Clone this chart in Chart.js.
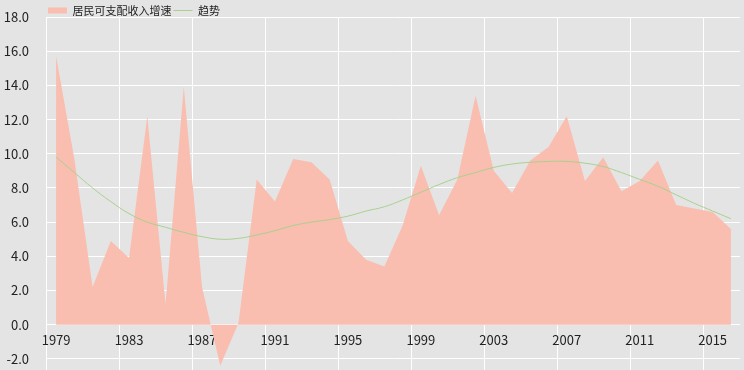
<!DOCTYPE html>
<html lang="zh-CN">
<head>
    <meta charset="UTF-8">
    <title>居民可支配收入增速</title>
    <script src="https://cdn.jsdelivr.net/npm/chart.js"></script>
    <style>
        html, body {
            margin: 0;
            padding: 0;
            background: #e4e4e4;
        }
        #chartBox {
            width: 744px;
            height: 370px;
        }
    </style>
</head>
<body>
    <div id="chartBox">
        <canvas id="incomeChart" width="744" height="370"></canvas>
    </div>
<script>
    // 数据
    const years = ['1979','1980','1981','1982','1983','1984','1985','1986','1987','1988',
                   '1989','1990','1991','1992','1993','1994','1995','1996','1997','1998',
                   '1999','2000','2001','2002','2003','2004','2005','2006','2007','2008',
                   '2009','2010','2011','2012','2013','2014','2015','2016'];
    const incomeGrowth = [15.7, 9.7, 2.2, 4.9, 3.9, 12.2, 1.2, 13.9, 2.2, -2.4,
                          0.1, 8.5, 7.2, 9.7, 9.5, 8.5, 4.9, 3.8, 3.4, 5.8,
                          9.3, 6.4, 8.5, 13.4, 9.0, 7.7, 9.6, 10.4, 12.2, 8.4,
                          9.8, 7.8, 8.4, 9.6, 7.0, 6.8, 6.6, 5.6];
    const trend = [9.8, 8.9, 8.0, 7.2, 6.5, 6.0, 5.7, 5.4, 5.15, 5.0,
                   5.05, 5.25, 5.5, 5.8, 6.0, 6.15, 6.35, 6.65, 6.9, 7.3,
                   7.75, 8.2, 8.6, 8.9, 9.2, 9.4, 9.5, 9.55, 9.55, 9.45,
                   9.25, 8.9, 8.5, 8.1, 7.6, 7.1, 6.65, 6.2];
    const seriesNames = ['居民可支配收入增速', '趋势'];

    const fontFamily = '"Noto Sans CJK SC", "Noto Sans", sans-serif';
    const textColor = '#222';

    // 图例挪到绘图区左上角
    const legendShift = {
        id: 'legendShift',
        afterLayout(chart) {
            const lg = chart.legend;
            lg.left = chart.chartArea.left + 1 - lg.options.labels.padding;
        }
    };

    new Chart(document.getElementById('incomeChart').getContext('2d'), {
        type: 'line',
        data: {
            labels: years,
            datasets: [
                {
                    label: seriesNames[0],
                    data: incomeGrowth,
                    fill: 'origin',
                    backgroundColor: 'rgb(249,190,175)',
                    borderColor: 'rgba(0,0,0,0)',
                    borderWidth: 0,
                    pointRadius: 0,
                    pointStyle: 'rect',
                    tension: 0,
                    order: 2
                },
                {
                    label: seriesNames[1],
                    data: trend,
                    fill: false,
                    borderColor: '#a9d18e',
                    backgroundColor: '#a9d18e',
                    borderWidth: 1,
                    pointRadius: 0,
                    pointStyle: 'line',
                    tension: 0.4,
                    order: 1
                }
            ]
        },
        options: {
            responsive: false,
            animation: false,
            layout: {
                padding: { left: 0, right: 4, top: 3, bottom: 0 }
            },
            plugins: {
                tooltip: { enabled: false },
                legend: {
                    position: 'top',
                    align: 'start',
                    maxHeight: 14,
                    labels: {
                        usePointStyle: true,
                        pointStyleWidth: 19,
                        boxHeight: 6,
                        padding: 2,
                        color: textColor,
                        font: { family: fontFamily, size: 11 },
                        generateLabels: chart => chart.data.datasets.map((ds, i) => ({
                            text: ds.label,
                            fillStyle: ds.backgroundColor,
                            strokeStyle: ds.borderColor,
                            lineWidth: ds.borderWidth,
                            pointStyle: ds.pointStyle,
                            fontColor: textColor,
                            hidden: false,
                            datasetIndex: i
                        }))
                    }
                }
            },
            scales: {
                x: {
                    type: 'category',
                    position: { y: 0 },
                    offset: true,
                    afterFit: s => { s.height = 0; },
                    border: { display: false },
                    grid: {
                        offset: true,
                        drawTicks: false,
                        lineWidth: 1,
                        color: c => (c.index % 4 === 0 ? '#ffffff' : 'rgba(0,0,0,0)')
                    },
                    ticks: {
                        autoSkip: false,
                        maxRotation: 0,
                        padding: 8,
                        color: textColor,
                        font: { family: fontFamily, size: 13 },
                        callback: (v, i) => (i % 4 === 0 ? years[i] : '')
                    }
                },
                y: {
                    min: -2.65,
                    max: 18,
                    afterFit: s => { s.width = 47; s.paddingTop = 0; s.paddingBottom = 0; },
                    border: { display: false },
                    grid: {
                        drawTicks: false,
                        color: '#ffffff',
                        lineWidth: 1
                    },
                    ticks: {
                        stepSize: 2,
                        includeBounds: false,
                        padding: 18,
                        color: textColor,
                        font: { family: fontFamily, size: 13 },
                        callback: v => v.toFixed(1)
                    }
                }
            }
        },
        plugins: [legendShift]
    });
</script>
</body>
</html>
